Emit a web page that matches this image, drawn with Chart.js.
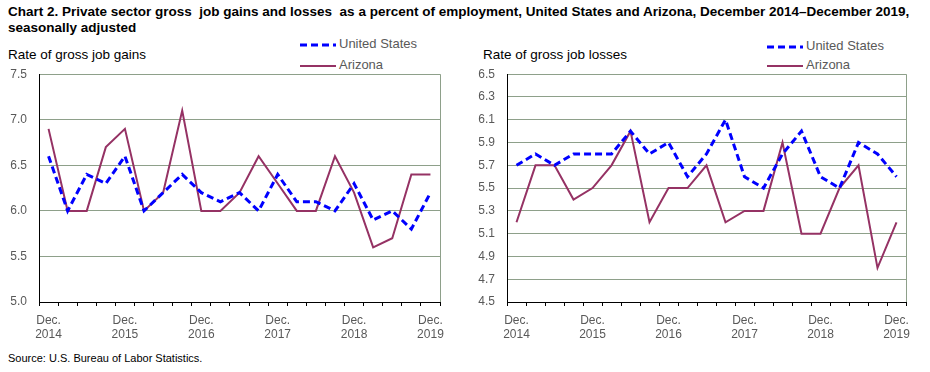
<!DOCTYPE html>
<html>
<head>
<meta charset="utf-8">
<script src="https://cdn.jsdelivr.net/npm/chart.js@4.4.1/dist/chart.umd.min.js"></script>
<style>
body { margin:0; width:930px; height:372px; background:#fff; position:relative; overflow:hidden;
       font-family: Arial, "Liberation Sans", sans-serif; }
#title { position:absolute; left:8px; top:4px; font-size:13.5px; font-weight:bold; line-height:16px; white-space:pre; color:#000; }
.ytitle { position:absolute; top:47px; font-size:13.5px; color:#000; }
.leg { position:absolute; font-size:13px; color:#595959; line-height:15px; }
.leg svg { vertical-align:middle; margin-right:3px; }
.box { position:absolute; top:55px; line-height:0; }
#source { position:absolute; left:8px; top:352px; font-size:11px; color:#000; }
</style>
</head>
<body>
<div id="title">Chart 2. Private sector gross  job gains and losses  as a percent of employment, United States and Arizona, December 2014–December 2019,
seasonally adjusted</div>

<div class="ytitle" style="left:8px">Rate of gross job gains</div>
<div class="ytitle" style="left:483px">Rate of gross job losses</div>

<div class="leg" style="left:300px;top:36px"><svg width="36" height="6"><line x1="0" y1="3" x2="36" y2="3" stroke="#0000ff" stroke-width="3" stroke-dasharray="7,4"/></svg>United States</div>
<div class="leg" style="left:300px;top:57px"><svg width="36" height="6"><line x1="0" y1="3" x2="36" y2="3" stroke="#953264" stroke-width="2"/></svg>Arizona</div>
<div class="leg" style="left:767px;top:38px"><svg width="36" height="6"><line x1="0" y1="3" x2="36" y2="3" stroke="#0000ff" stroke-width="3" stroke-dasharray="7,4"/></svg>United States</div>
<div class="leg" style="left:767px;top:57px"><svg width="36" height="6"><line x1="0" y1="3" x2="36" y2="3" stroke="#953264" stroke-width="2"/></svg>Arizona</div>

<div class="box" style="left:0px"><canvas id="gainsChart" width="460" height="287"></canvas></div>
<div class="box" style="left:460px"><canvas id="lossesChart" width="470" height="287"></canvas></div>

<div id="source">Source: U.S. Bureau of Labor Statistics.</div>

<script>
// quarters, Dec 2014 - Dec 2019
var quarters = ["Dec. 2014","Mar. 2015","Jun. 2015","Sep. 2015","Dec. 2015","Mar. 2016","Jun. 2016","Sep. 2016",
                "Dec. 2016","Mar. 2017","Jun. 2017","Sep. 2017","Dec. 2017","Mar. 2018","Jun. 2018","Sep. 2018",
                "Dec. 2018","Mar. 2019","Jun. 2019","Sep. 2019","Dec. 2019"];

var gainsUS = [6.6, 6.0, 6.4, 6.3, 6.6, 6.0, 6.2, 6.4, 6.2, 6.1, 6.2, 6.0, 6.4, 6.1, 6.1, 6.0, 6.3, 5.9, 6.0, 5.8, 6.2];
var gainsAZ = [6.9, 6.0, 6.0, 6.7, 6.9, 6.0, 6.2, 7.1, 6.0, 6.0, 6.2, 6.6, 6.3, 6.0, 6.0, 6.6, 6.2, 5.6, 5.7, 6.4, 6.4];

var lossesUS = [5.7, 5.8, 5.7, 5.8, 5.8, 5.8, 6.0, 5.8, 5.9, 5.6, 5.8, 6.1, 5.6, 5.5, 5.8, 6.0, 5.6, 5.5, 5.9, 5.8, 5.6];
var lossesAZ = [5.2, 5.7, 5.7, 5.4, 5.5, 5.7, 6.0, 5.2, 5.5, 5.5, 5.7, 5.2, 5.3, 5.3, 5.9, 5.1, 5.1, 5.5, 5.7, 4.8, 5.2];

var gainsAxis = {min: 5.0, max: 7.5, step: 0.5};
var lossesAxis = {min: 4.5, max: 6.5, step: 0.2};

var gridGreen = '#8ea08a';
var tickGray = '#595959';

// right edge of the plot frame
var frameRight = {
    id: 'frameRight',
    afterDraw: function (chart) {
        var a = chart.chartArea, ctx = chart.ctx;
        ctx.save();
        ctx.strokeStyle = gridGreen;
        ctx.lineWidth = 1;
        ctx.beginPath();
        ctx.moveTo(Math.round(a.right) + 0.5, a.top);
        ctx.lineTo(Math.round(a.right) + 0.5, a.bottom);
        ctx.stroke();
        ctx.restore();
    }
};

function makeChart(id, us, az, axis, yWidth, padRight) {
    return new Chart(document.getElementById(id), {
        type: 'line',
        data: {
            labels: quarters,
            datasets: [
                {
                    label: 'United States',
                    data: us,
                    borderColor: '#0000ff',
                    borderWidth: 3,
                    borderDash: [7, 4],
                    pointRadius: 0,
                    tension: 0,
                    fill: false
                },
                {
                    label: 'Arizona',
                    data: az,
                    borderColor: '#953264',
                    borderWidth: 2,
                    pointRadius: 0,
                    tension: 0,
                    fill: false
                }
            ]
        },
        options: {
            responsive: false,
            animation: false,
            layout: {padding: {top: 0, right: padRight, left: 0, bottom: 0}},
            plugins: {legend: {display: false}, tooltip: {enabled: false}},
            scales: {
                x: {
                    offset: true,
                    grid: {offset: true, drawOnChartArea: false, drawTicks: true, tickLength: 4, tickColor: '#000'},
                    border: {color: '#000', width: 1},
                    ticks: {
                        autoSkip: false, maxRotation: 0, padding: 7,
                        color: tickGray, font: {family: 'Arial', size: 12}, lineHeight: 1.15,
                        callback: function (v) {
                            var l = this.getLabelForValue(v);
                            return l.indexOf('Dec.') === 0 ? l.split(' ') : '';
                        }
                    },
                    afterFit: function (s) { s.height = 40; }
                },
                y: {
                    min: axis.min, max: axis.max,
                    grid: {color: gridGreen, drawTicks: false},
                    border: {color: '#000', width: 1},
                    ticks: {
                        stepSize: axis.step, padding: 12,
                        color: tickGray, font: {family: 'Arial', size: 12},
                        callback: function (v) { return v.toFixed(1); }
                    },
                    afterFit: function (s) { s.width = yWidth; }
                }
            }
        },
        plugins: [frameRight]
    });
}

makeChart('gainsChart', gainsUS, gainsAZ, gainsAxis, 39, 20);
makeChart('lossesChart', lossesUS, lossesAZ, lossesAxis, 47, 24);
</script>
</body>
</html>
